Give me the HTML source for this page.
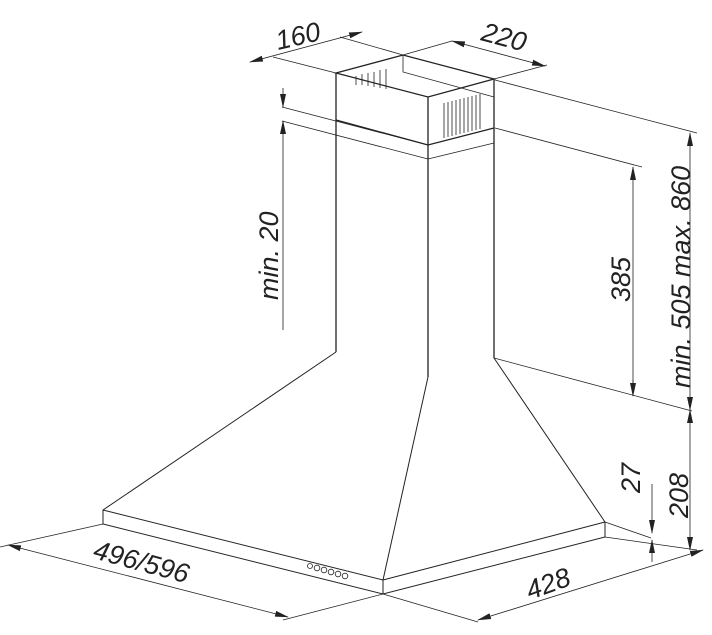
<!DOCTYPE html>
<html><head><style>body{margin:0;background:#fff}svg{display:block}text{font-family:"Liberation Sans",sans-serif;font-size:27px;font-style:italic;fill:#222}</style></head><body>
<svg width="712" height="635" viewBox="0 0 712 635" xmlns="http://www.w3.org/2000/svg">
<defs><marker id="a" markerWidth="14" markerHeight="8" refX="13" refY="4" orient="auto-start-reverse" markerUnits="userSpaceOnUse"><path d="M0,1 L14,4 L0,7z" fill="#222"/></marker></defs>
<g stroke="#222" fill="none" stroke-width="1.3">
<path d="M336,73 L403,55 L494,79 L428,97 Z"/>
<path d="M403,55 V72 L494,97" stroke-width="0.8"/>
<path d="M336,73 V352 M428,97 V377 M494,79 V358"/>
<path d="M336,120 L428,145 L494,128"/>
<path d="M428,159 L494,143" stroke-width="0.8"/>
<g stroke-width="0.8"><path d="M444,103 V138 M448,102 V137 M452,101 V136 M456,100 V135 M460,99 V134 M464,98 V133 M468,97 V132 M472,96 V131 M476,95 V130 M480,94 V129"/><path d="M356,76 V85 M362,74 V85 M368,73 V86 M374,72 V87 M380,70 V88 M386,69 V89"/></g>
<path d="M336,352 L103,510 V524 L383,594 L605,537 V522 L494,358 M428,377 L383,580 L103,510 M383,580 L605,522 M383,580 V594" stroke-width="1"/>
<g stroke-width="0.8"><circle cx="310" cy="566" r="2.5"/><circle cx="317" cy="568" r="2.8"/><circle cx="324" cy="570" r="2.8"/><circle cx="331" cy="572" r="2.8"/><circle cx="338" cy="574" r="2.8"/><circle cx="345" cy="576" r="2.8"/></g>
<g stroke-width="0.8">
<path d="M336,73 L273,57 M403,55 L340,37 M403,55 L452,41 M494,79 L547,65 M495,80 L697,133 M495,128 L642,167 M494,358 L692,411 M605,522 L651,538 M605,537 L697,550 M383,594 L478,622 M383,594 L283,620 M103,524 L0,547 M282,107 L428,145 M282,121 L428,159"/>
<path d="M250,62 L362,32" marker-start="url(#a)" marker-end="url(#a)"/>
<path d="M452,41 L545,66" marker-start="url(#a)" marker-end="url(#a)"/>
<path d="M690,133 V410" marker-start="url(#a)" marker-end="url(#a)"/>
<path d="M690,410 V550" marker-start="url(#a)" marker-end="url(#a)"/>
<path d="M633,167 V396" marker-start="url(#a)"/>
<path d="M633,380 V396" marker-end="url(#a)"/>
<path d="M652,484 V533" marker-end="url(#a)"/>
<path d="M652,540 V562" marker-start="url(#a)"/>
<path d="M283,88 V107" marker-end="url(#a)"/>
<path d="M283,121 V330" marker-start="url(#a)"/>
<path d="M8,545 L288,617" marker-start="url(#a)" marker-end="url(#a)"/>
<path d="M478,620 L703,550" marker-start="url(#a)" marker-end="url(#a)"/>
</g>
</g>
<text transform="translate(278,50) rotate(-13)">160</text>
<text transform="translate(480,40) rotate(15)">220</text>
<text transform="translate(278,300) rotate(-90)">min. 20</text>
<text transform="translate(630,302) rotate(-90)">385</text>
<text transform="translate(690,388) rotate(-90)">min. 505 max. 860</text>
<text transform="translate(688,518) rotate(-90)">208</text>
<text transform="translate(640,493) rotate(-90)">27</text>
<text transform="translate(92,558) rotate(15)">496/596</text>
<text transform="translate(530,600) rotate(-20)">428</text>
</svg>
</body></html>
